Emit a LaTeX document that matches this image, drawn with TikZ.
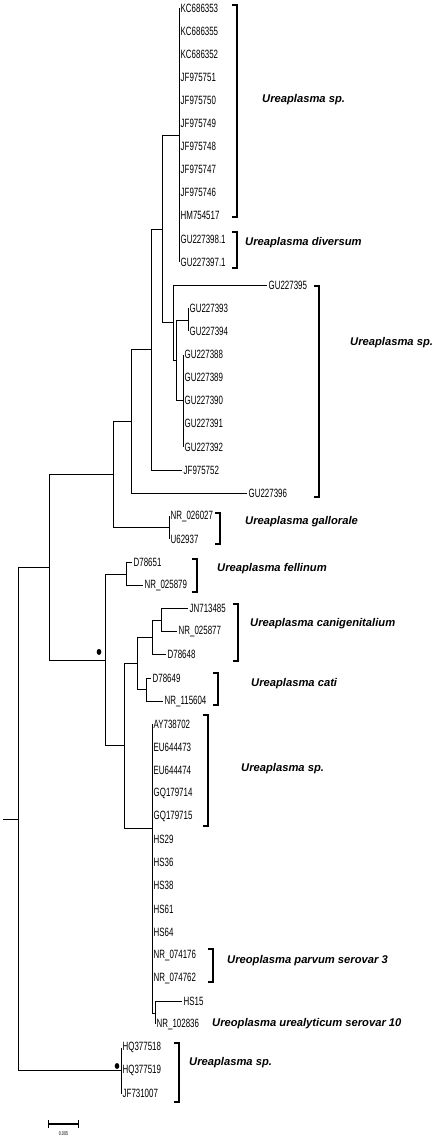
\documentclass[tikz,border=0pt]{standalone}
\usepackage{fontspec}
\setmainfont{Liberation Sans}
\newfontfamily\accfont{Liberation Sans}[FakeStretch=0.66]
\usetikzlibrary{arrows.meta,calc,shapes.geometric}

\begin{document}
\begin{tikzpicture}[x=1pt,y=-1pt,line join=miter,
branch/.style={line width=.8pt},
leaf/.style={anchor=west,inner sep=1.5pt,font=\accfont\fontsize{12}{13}\selectfont},
clade/.style={anchor=west,inner sep=0pt,font=\bfseries\itshape\fontsize{11.2}{12}\selectfont},
brace/.style={line width=1.3pt},
support/.style={ellipse,fill=black,inner sep=0pt,minimum width=4.6pt,minimum height=6pt}]
\useasboundingbox (0,0) rectangle (434,1140);
% leaves: tip x / accession
\foreach \x/\lab [count=\i from 0] in {179/KC686353,179/KC686355,179/KC686352,179/JF975751,179/JF975750,179/JF975749,
179/JF975748,179/JF975747,179/JF975746,179/HM754517,179/GU227398.1,179/GU227397.1,267/GU227395,188/GU227393,188/GU227394,
183/GU227388,183/GU227389,183/GU227390,183/GU227391,183/GU227392,182/JF975752,247/GU227396,169/NR\_026027,169/U62937,
132/D78651,143/NR\_025879,188/JN713485,177/NR\_025877,166/D78648,151/D78649,163/NR\_115604,152/AY738702,152/EU644473,
152/EU644474,152/GQ179714,152/GQ179715,152/HS29,152/HS36,152/HS38,152/HS61,152/HS64,152/NR\_074176,152/NR\_074762,
182/HS15,155/NR\_102836,121/HQ377518,121/HQ377519,121/JF731007}{
\coordinate (l\i) at (\x,{8+23.1*\i});
\node[leaf] (t\i) at (l\i) {\lab};}
% internal nodes
\coordinate (nA) at (179,135);
\coordinate (nC1) at (188,319.9);
\coordinate (nC2) at (183,400.7);
\coordinate (nC) at (176,360.3);
\coordinate (nB) at (173,322.8);
\coordinate (nD) at (162,228.9);
\coordinate (nE) at (151,349.5);
\coordinate (nF) at (131,421.3);
\coordinate (nGal) at (169,527.8);
\coordinate (nG) at (113,474.5);
\coordinate (nFel) at (126,574);
\coordinate (nN) at (161,620.2);
\coordinate (nM) at (152,637.5);
\coordinate (nO) at (146,689.5);
\coordinate (nL) at (137,663.5);
\coordinate (nP3) at (155,1012.9);
\coordinate (nP) at (152,828);
\coordinate (nK) at (124,745.8);
\coordinate (nJ) at (105,659.9);
\coordinate (nH) at (49,567.2);
\coordinate (nQ) at (121,1070.6);
\coordinate (nI) at (18,818.9);
\coordinate (root) at (3,818.9);
% branches
\foreach \c in {0,...,11}{\draw[branch] (nA) |- (l\c);}
\foreach \c in {15,...,19}{\draw[branch] (nC2) |- (l\c);}
\foreach \c in {31,...,42}{\draw[branch] (nP) |- (l\c);}
\foreach \c in {45,46,47}{\draw[branch] (nQ) |- (l\c);}
\foreach \p/\c in {nC1/l13,nC1/l14,nC/nC1,nC/nC2,nB/l12,nB/nC,nD/nA,nD/nB,nE/nD,nE/l20,nF/nE,nF/l21,
nGal/l22,nGal/l23,nG/nF,nG/nGal,nFel/l24,nFel/l25,nN/l26,nN/l27,nM/nN,nM/l28,nO/l29,nO/l30,nL/nM,nL/nO,
nP3/l43,nP3/l44,nP/nP3,nK/nL,nK/nP,nJ/nFel,nJ/nK,nH/nG,nH/nJ,nI/nH,nI/nQ}{\draw[branch] (\p) |- (\c);}
\draw[branch] (root) -- (nI);
% bootstrap dots
\node[support] (bs1) at ($(nJ)+(-6,-8)$) {};
\node[support] (bs2) at ($(nQ)+(-4,-4.6)$) {};
% clade brackets and names
\foreach \bx/\bt/\bb/\lx/\ly/\name [count=\k] in {237/5/217/262/100/Ureaplasma sp.,237/232/268/245/243/Ureaplasma diversum,
319/286/497/350/343/Ureaplasma sp.,220/513/544/245/522/Ureaplasma gallorale,197/559/592/217/569/Ureaplasma fellinum,
238/604/661/250/624/Ureaplasma canigenitalium,218/673/705/251/684/Ureaplasma cati,208/715/826/241/769/Ureaplasma sp.,
213/949/982/227/961/Ureoplasma parvum serovar 3,179/1043/1102/189/1063/Ureaplasma sp.}{
\draw[brace] ({\bx-5},\bt) -- (\bx,\bt) -- (\bx,\bb) -- ({\bx-5},\bb);
\node[clade] (clade\k) at (\lx,\ly) {\name};}
\node[clade] (clade11) at (212,1024) {Ureoplasma urealyticum serovar 10};
% scale bar
\coordinate (sbl) at (48,1124);
\coordinate (sbr) at (79,1124);
\draw[line width=1.4pt,{Bar[width=8pt]}-{Bar[width=8pt]}] (sbl) -- (sbr);
\node[inner sep=0pt,font=\accfont\fontsize{5.5}{6}\selectfont] (sblab) at ($(sbl)!.5!(sbr)+(0,10)$) {0.005};
\end{tikzpicture}
\end{document}
